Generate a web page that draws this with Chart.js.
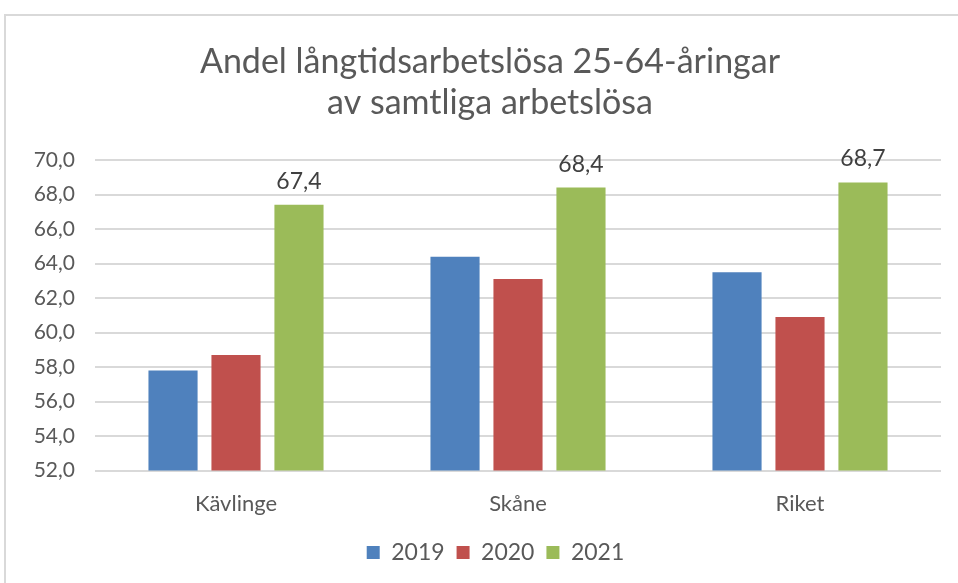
<!DOCTYPE html>
<html>
<head>
<meta charset="utf-8">
<script src="https://cdn.jsdelivr.net/npm/chart.js@4"></script>
<style>
html,body{margin:0;padding:0;background:#fff;}
#wrap{position:absolute;left:0;top:0;width:958px;height:583px;}
#frame{position:absolute;left:4px;top:14px;width:970px;height:600px;border:2px solid #D9D9D9;box-sizing:border-box;}
canvas{position:absolute;left:0;top:0;}
</style>
</head>
<body>
<div id="wrap"><div id="frame"></div><canvas id="c" width="958" height="583"></canvas></div>
<script>
const categories = ["Kävlinge", "Skåne", "Riket"];
const seriesNames = ["2019", "2020", "2021"];
const values2019 = [57.8, 64.4, 63.5];
const values2020 = [58.7, 63.1, 60.9];
const values2021 = [67.4, 68.4, 68.7];
const yTicks = [52, 54, 56, 58, 60, 62, 64, 66, 68, 70];
const titleLines = ["Andel långtidsarbetslösa 25-64-åringar", "av samtliga arbetslösa"];
const colors = ["#4F81BD", "#C0504D", "#9BBB59"];

const FONT = "Lato, 'Open Sans', sans-serif";
const fmt = v => v.toFixed(1).replace('.', ',');

const labelPlugin = {
  id: 'greenLabels',
  afterDatasetsDraw(chart) {
    const ctx = chart.ctx;
    const meta = chart.getDatasetMeta(2);
    ctx.save();
    ctx.font = "23px " + FONT;
    ctx.fillStyle = "#404040";
    ctx.textAlign = "center";
    ctx.textBaseline = "alphabetic";
    meta.data.forEach((bar, i) => {
      ctx.fillText(fmt(values2021[i]), bar.x, bar.y - 16);
    });
    ctx.restore();
  }
};

const titlePlugin = {
  id: 'centeredTitle',
  afterLayout(chart) {
    if (chart.legend) { chart.legend.left += 50; }
  },
  afterDraw(chart) {
    const ctx = chart.ctx;
    ctx.save();
    ctx.font = "34px " + FONT;
    ctx.fillStyle = "#595959";
    ctx.textAlign = "center";
    ctx.textBaseline = "middle";
    const cx = chart.width / 2 + 11;
    titleLines.forEach((t, i) => ctx.fillText(t, cx, 62 + i * 41));
    ctx.restore();
  }
};

new Chart(document.getElementById('c'), {
  type: 'bar',
  data: {
    labels: categories,
    datasets: [values2019, values2020, values2021].map((d, i) => ({
      label: seriesNames[i],
      data: d,
      backgroundColor: colors[i],
      borderWidth: 0,
      categoryPercentage: 0.67,
      barPercentage: 0.78
    }))
  },
  options: {
    responsive: false,
    animation: false,
    devicePixelRatio: 1,
    layout: { padding: { left: 0, right: 17, top: 160, bottom: 9 } },
    plugins: {
      title: { display: false },
      legend: {
        position: 'bottom',
        labels: {
          color: "#595959",
          font: { family: FONT, size: 23 },
          boxWidth: 13,
          boxHeight: 13,
          padding: 12
        }
      },
      tooltip: { enabled: false }
    },
    scales: {
      x: {
        grid: { display: false },
        border: { display: false },
        ticks: { color: "#595959", font: { family: FONT, size: 22 }, padding: 12 }
      },
      y: {
        min: 52, max: 70,
        afterFit(scale) { scale.width = 95; },
        afterBuildTicks(scale) { scale.ticks = yTicks.map(v => ({ value: v })); },
        grid: { color: "#D9D9D9", lineWidth: 2, drawTicks: false },
        border: { display: false },
        ticks: {
          color: "#595959",
          font: { family: FONT, size: 21 },
          padding: 20,
          callback: v => fmt(v)
        }
      }
    }
  },
  plugins: [labelPlugin, titlePlugin]
});
</script>
</body>
</html>
